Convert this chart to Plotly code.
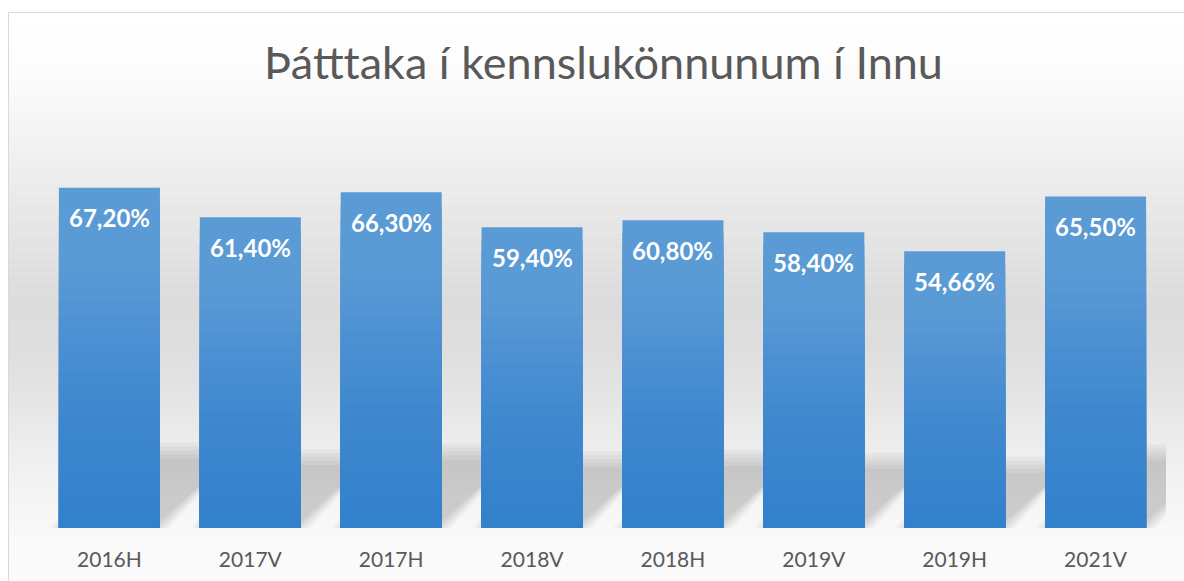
import plotly.graph_objects as go
import numpy as np

# ---- data ----
categories = ["2016H", "2017V", "2017H", "2018V", "2018H", "2019V", "2019H", "2021V"]
values = [67.20, 61.40, 66.30, 59.40, 60.80, 58.40, 54.66, 65.50]
title_text = "Þátttaka í kennslukönnunum í Innu"

# ---- layout constants (pixels) ----
W, H = 1184, 581
ML, MR, MT, MB = 39, 18, 123, 53
PW, PH = W - ML - MR, H - MT - MB
YMAX = 80
BARGAP = 0.283
FONT = "Lato"
TXT = "#595959"

def px_to_paper_x(px):
    return (px - ML) / PW

def py_to_paper_y(py):
    return (H - MB - py) / PH

def interp_color(stops, t):
    ts = [s[0] for s in stops]
    out = []
    for c in range(3):
        out.append(int(round(np.interp(t, ts, [s[1][c] for s in stops]))))
    return "rgb(%d,%d,%d)" % tuple(out)

shapes = []

# ---- background gradient (decoration) ----
bg_stops = [(12, 255), (60, 253), (100, 248), (170, 237), (200, 232), (250, 225),
            (300, 218), (340, 219), (380, 224), (420, 231), (460, 238), (500, 244),
            (528, 248), (581, 251)]
ys = np.arange(12.5, 582, 2.0)
for y0 in ys:
    g = int(round(np.interp(y0 + 1, [s[0] for s in bg_stops], [s[1] for s in bg_stops])))
    shapes.append(dict(type="rect", xref="paper", yref="paper", layer="below",
                       x0=px_to_paper_x(8.5), x1=px_to_paper_x(1200),
                       y0=py_to_paper_y(y0), y1=py_to_paper_y(y0 + 2.2),
                       line=dict(width=0), fillcolor="rgb(%d,%d,%d)" % (g, g, g)))

# chart border
shapes.append(dict(type="rect", xref="paper", yref="paper", layer="below",
                   x0=px_to_paper_x(8.5), x1=px_to_paper_x(1300),
                   y0=py_to_paper_y(700), y1=py_to_paper_y(12.5),
                   line=dict(width=1, color="#d9d9d9"), fillcolor="rgba(0,0,0,0)"))

# ---- perspective shadow behind bars (decoration, derived from bar positions) ----
px_per_x = PW / len(categories)
px_per_y = PH / YMAX
bw = 1 - BARGAP
for i, v in enumerate(values):
    h_px = 0.225 * v * px_per_y
    dx_px = h_px
    for e in [9, 5, 1, -3, -7]:
        L = i - bw / 2 - e / px_per_x
        R = i + bw / 2 + e / px_per_x
        dxu = dx_px / px_per_x
        top = (h_px + e) / px_per_y
        path = "M %f,0 L %f,0 L %f,%f L %f,%f Z" % (L, R, R + dxu, top, L + dxu, top)
        shapes.append(dict(type="path", xref="x", yref="y", layer="below", path=path,
                           line=dict(width=0), fillcolor="rgba(0,0,0,0.036)"))

# ---- bars with vertical gradient via overlaid layers ----
bar_stops = [(0.0, (50, 127, 203)), (0.35, (63, 136, 206)), (0.54, (74, 143, 210)),
             (0.75, (89, 153, 213)), (1.0, (91, 155, 213))]
N = 24
xs = list(range(len(categories)))
fig = go.Figure()
for k in range(N):
    frac_top = 1 - k / N
    col = interp_color(bar_stops, 1 - (k + 0.5) / N)
    fig.add_trace(go.Bar(x=xs, y=[v * frac_top for v in values],
                         marker=dict(color=col, line=dict(width=0)),
                         hoverinfo="skip", showlegend=False))

# ---- data labels ----
annotations = []
for i, v in enumerate(values):
    annotations.append(dict(x=i, y=v, xref="x", yref="y",
                            text=("%.2f%%" % v).replace(".", ","),
                            showarrow=False, yanchor="middle", yshift=-30,
                            font=dict(family=FONT, size=24, color="white", weight="bold")))

fig.update_layout(
    width=W, height=H,
    margin=dict(l=ML, r=MR, t=MT, b=MB, autoexpand=False),
    paper_bgcolor="white", plot_bgcolor="rgba(0,0,0,0)",
    barmode="overlay", bargap=BARGAP,
    title=dict(text=title_text, x=603.5 / W, xanchor="center", xref="container",
               y=1 - 63 / H, yanchor="middle", yref="container",
               font=dict(family=FONT, size=45, color=TXT)),
    xaxis=dict(range=[-0.5, len(categories) - 0.5], tickvals=xs, ticktext=categories,
               showgrid=False, zeroline=False, showline=False, ticks="",
               ticklabelstandoff=17,
               tickfont=dict(family=FONT, size=21, color=TXT), fixedrange=True),
    yaxis=dict(range=[0, YMAX], visible=False, fixedrange=True),
    shapes=shapes, annotations=annotations, showlegend=False,
)

fig.write_html("out.html", config={"displayModeBar": False},
               post_script="document.body.style.margin='0';document.body.style.overflow='hidden';")
